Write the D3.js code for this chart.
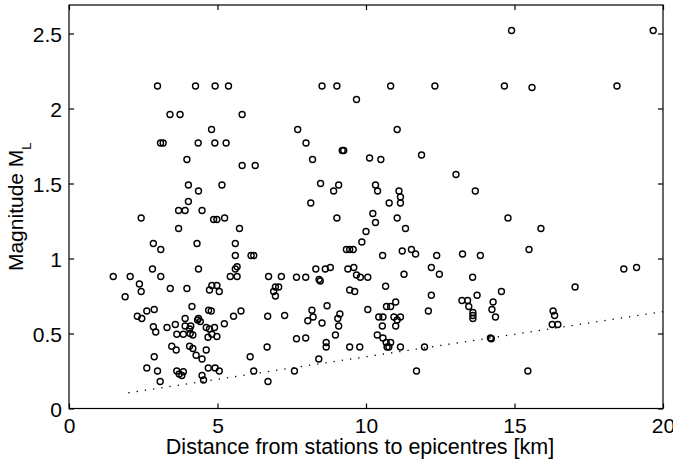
<!DOCTYPE html>
<html>
<head>
<meta charset="utf-8">
<script src="https://cdn.jsdelivr.net/npm/d3@7"></script>
<style>
  body { margin: 0; background: #fff; }
  text { font-family: "Liberation Sans", Arial, sans-serif; fill: #000; }
</style>
</head>
<body>
<div id="scatterplot"></div>
<script>
// distance from station to epicentre [km] and local magnitude, one entry per event
const distanceKm = [
  19.67, 14.90, 2.98, 4.26, 4.92, 5.37, 8.52, 9.02, 10.83, 12.32,
  14.66, 15.59, 18.45, 9.68, 3.40, 3.74, 5.83, 4.80, 7.70, 11.05,
  3.08, 3.17, 4.35, 4.91, 5.29, 7.98, 9.20, 9.25, 8.20, 10.12,
  10.50, 11.87, 3.97, 5.83, 6.27, 13.03, 4.02, 5.15, 8.47, 9.08,
  10.32, 4.36, 8.91, 10.39, 11.11, 13.68, 11.16, 11.16, 10.78, 8.14,
  4.02, 3.69, 3.91, 4.48, 10.23, 2.43, 4.87, 4.98, 5.24, 9.02,
  11.05, 14.78, 10.32, 3.69, 5.74, 11.33, 15.89, 10.00, 2.84, 4.31,
  5.60, 9.86, 3.09, 9.34, 9.45, 9.57, 11.22, 11.53, 15.49, 11.67,
  13.25, 13.85, 5.60, 6.13, 6.22, 10.56, 12.38, 2.81, 4.36, 5.66,
  5.60, 8.31, 8.63, 8.80, 9.39, 9.59, 12.20, 18.68, 19.11, 1.49,
  2.06, 3.09, 5.43, 5.66, 6.72, 7.15, 7.66, 7.97, 9.68, 9.81,
  10.06, 11.28, 12.47, 13.59, 8.42, 8.46, 2.37, 4.81, 4.98, 6.95,
  7.06, 10.66, 17.04, 3.41, 3.97, 4.73, 9.45, 9.62, 14.56, 2.43,
  5.06, 6.89, 6.95, 1.89, 12.20, 13.74, 13.23, 13.42, 14.28, 11.00,
  4.14, 8.69, 10.69, 10.83, 13.46, 4.70, 4.79, 2.62, 2.87, 5.79,
  8.18, 10.06, 12.10, 14.24, 16.30, 9.12, 13.60, 13.60, 13.60, 16.35,
  2.30, 2.45, 3.91, 4.36, 5.54, 6.69, 7.26, 8.22, 9.05, 10.43,
  10.57, 10.94, 11.16, 14.36, 11.05, 4.33, 4.42, 8.04, 5.23, 3.58,
  8.52, 16.27, 16.46, 9.08, 10.55, 11.00, 2.84, 3.30, 3.91, 4.10,
  4.62, 4.90, 4.06, 4.73, 2.92, 4.08, 3.63, 3.85, 4.17, 4.81,
  8.97, 10.38, 4.98, 4.68, 7.66, 7.97, 10.57, 14.19, 14.22, 8.66,
  10.68, 10.83, 3.46, 4.06, 3.61, 4.17, 4.62, 6.67, 8.66, 9.45,
  9.79, 10.71, 10.77, 11.16, 11.97, 4.28, 4.48, 2.87, 6.10, 8.41,
  2.62, 2.98, 3.63, 3.71, 3.85, 3.80, 4.69, 4.92, 5.06, 4.48,
  4.53, 3.07, 6.22, 6.70, 7.59, 11.70, 15.45
];
const magnitudeML = [
  2.52, 2.52, 2.15, 2.15, 2.15, 2.15, 2.15, 2.15, 2.15, 2.15,
  2.15, 2.14, 2.15, 2.06, 1.96, 1.96, 1.96, 1.86, 1.86, 1.86,
  1.77, 1.77, 1.77, 1.77, 1.77, 1.77, 1.72, 1.72, 1.66, 1.67,
  1.66, 1.69, 1.66, 1.62, 1.62, 1.56, 1.49, 1.49, 1.50, 1.49,
  1.49, 1.45, 1.45, 1.45, 1.45, 1.45, 1.41, 1.37, 1.37, 1.37,
  1.38, 1.32, 1.32, 1.32, 1.30, 1.27, 1.26, 1.26, 1.27, 1.27,
  1.27, 1.27, 1.24, 1.20, 1.20, 1.20, 1.20, 1.18, 1.10, 1.10,
  1.10, 1.11, 1.06, 1.06, 1.06, 1.06, 1.05, 1.06, 1.06, 1.03,
  1.03, 1.02, 1.02, 1.02, 1.02, 1.02, 1.02, 0.93, 0.93, 0.945,
  0.93, 0.93, 0.93, 0.94, 0.93, 0.94, 0.94, 0.93, 0.94, 0.88,
  0.88, 0.88, 0.88, 0.88, 0.88, 0.88, 0.875, 0.875, 0.89, 0.875,
  0.875, 0.895, 0.895, 0.875, 0.86, 0.85, 0.83, 0.82, 0.82, 0.81,
  0.81, 0.815, 0.81, 0.80, 0.80, 0.79, 0.79, 0.78, 0.78, 0.78,
  0.78, 0.78, 0.75, 0.745, 0.755, 0.755, 0.72, 0.72, 0.71, 0.71,
  0.68, 0.685, 0.68, 0.68, 0.68, 0.655, 0.65, 0.65, 0.66, 0.65,
  0.655, 0.66, 0.65, 0.66, 0.65, 0.63, 0.64, 0.62, 0.60, 0.62,
  0.615, 0.60, 0.60, 0.60, 0.615, 0.615, 0.62, 0.61, 0.60, 0.61,
  0.61, 0.61, 0.61, 0.61, 0.59, 0.59, 0.58, 0.585, 0.565, 0.56,
  0.57, 0.56, 0.56, 0.55, 0.55, 0.55, 0.545, 0.54, 0.55, 0.55,
  0.54, 0.54, 0.53, 0.53, 0.51, 0.50, 0.495, 0.495, 0.49, 0.495,
  0.49, 0.49, 0.48, 0.475, 0.465, 0.47, 0.47, 0.47, 0.465, 0.44,
  0.44, 0.44, 0.415, 0.415, 0.39, 0.40, 0.39, 0.41, 0.41, 0.41,
  0.41, 0.41, 0.41, 0.41, 0.41, 0.355, 0.33, 0.345, 0.345, 0.33,
  0.27, 0.25, 0.25, 0.23, 0.245, 0.22, 0.27, 0.27, 0.25, 0.22,
  0.19, 0.18, 0.25, 0.18, 0.25, 0.25, 0.25
];
// dotted lower bound line (end points)
const boundX = [2, 20];
const boundY = [0.105, 0.645];

const xTicks = [0, 5, 10, 15, 20];
const yTicks = [0, 0.5, 1, 1.5, 2, 2.5];

const margin = { top: 5, right: 10, bottom: 52.5, left: 69 };
const width = 673 - margin.left - margin.right;   // 594
const height = 461 - margin.top - margin.bottom;  // 403.5

const svg = d3.select("#scatterplot").append("svg")
  .attr("width", 673)
  .attr("height", 461)
  .append("g")
  .attr("transform", "translate(" + margin.left + "," + margin.top + ")");

const x = d3.scaleLinear().domain([0, 20]).range([0, width]);
const y = d3.scaleLinear().domain([0, 2.69]).range([height, 0]);

// axes, ticks pointing inwards like the original figure
const xAxis = d3.axisBottom(x).tickValues(xTicks).tickFormat(d3.format("d"))
  .tickSizeInner(-5).tickSizeOuter(0).tickPadding(10);
const yAxis = d3.axisLeft(y).tickValues(yTicks).tickFormat(d => String(d))
  .tickSizeInner(-5).tickSizeOuter(0).tickPadding(7);

const gx = svg.append("g")
  .attr("transform", "translate(0," + height + ")")
  .call(xAxis);
const gy = svg.append("g").call(yAxis);

svg.append("g")
  .call(d3.axisTop(x).tickValues(xTicks).tickFormat("").tickSizeInner(-5).tickSizeOuter(0));
svg.append("g")
  .attr("transform", "translate(" + width + ",0)")
  .call(d3.axisRight(y).tickValues(yTicks).tickFormat("").tickSizeInner(-5).tickSizeOuter(0));

svg.selectAll(".domain").remove();
svg.selectAll(".tick line").attr("stroke", "#000").attr("stroke-width", 1.2);
svg.selectAll(".tick text")
  .style("font-size", "21px")
  .style("font-family", "'Liberation Sans', Arial, sans-serif");
gy.selectAll(".tick text").attr("dy", "0.4em");

// box
svg.append("rect")
  .attr("x", 0).attr("y", 0)
  .attr("width", width).attr("height", height)
  .attr("fill", "none").attr("stroke", "#000").attr("stroke-width", 1.2);

// dotted line
svg.append("line")
  .attr("x1", x(boundX[0])).attr("y1", y(boundY[0]))
  .attr("x2", x(boundX[1])).attr("y2", y(boundY[1]))
  .attr("stroke", "#000")
  .attr("stroke-width", 1.3)
  .attr("stroke-dasharray", "1.3,7");

const data = distanceKm.map((d, i) => ({ dist: d, mag: magnitudeML[i] }));

svg.selectAll("circle")
  .data(data)
  .enter().append("circle")
  .attr("cx", d => x(d.dist))
  .attr("cy", d => y(d.mag))
  .attr("r", 3)
  .attr("fill", "none")
  .attr("stroke", "#000")
  .attr("stroke-width", 1.4);

// axis labels
svg.append("text")
  .attr("x", width / 2 - 6)
  .attr("y", height + 45)
  .style("text-anchor", "middle")
  .style("font-size", "21.5px")
  .text("Distance from stations to epicentres [km]");

const ylab = svg.append("text")
  .attr("transform", "translate(" + (23 - margin.left) + "," + (height / 2) + ") rotate(-90)")
  .style("text-anchor", "middle")
  .style("font-size", "21px");
ylab.append("tspan").text("Magnitude M");
ylab.append("tspan").attr("dy", 8).style("font-size", "13px").text("L");
</script>
</body>
</html>
